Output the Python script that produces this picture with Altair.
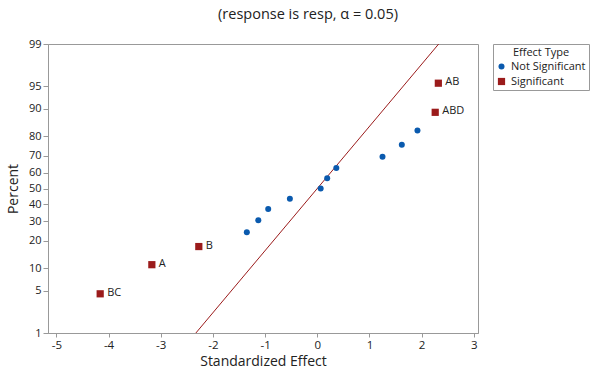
import altair as alt
import pandas as pd
from statistics import NormalDist

# Effects (standardized)
effect_names = ["BC", "A", "B", "", "", "", "", "", "", "", "", "", "", "ABD", "AB"]
effect_values = [-4.16, -3.17, -2.27, -1.35, -1.13, -0.94, -0.525, 0.065, 0.19, 0.365,
                 1.25, 1.62, 1.92, 2.26, 2.32]
effect_percent = [4.5, 11.0, 17.5, 24.0, 30.5, 37.0, 43.5, 50.0, 56.5, 63.0,
                  69.5, 76.0, 82.5, 89.0, 95.5]
effect_type = ["Significant", "Significant", "Significant",
               "Not Significant", "Not Significant", "Not Significant", "Not Significant",
               "Not Significant", "Not Significant", "Not Significant", "Not Significant",
               "Not Significant", "Not Significant", "Significant", "Significant"]

# reference line (standard normal: effect = z), endpoints in percent
line_percent = [1.0, 99.0]

y_tick_percent = [1, 5, 10, 20, 30, 40, 50, 60, 70, 80, 90, 95, 99]
x_ticks = [-5, -4, -3, -2, -1, 0, 1, 2, 3]

nd = NormalDist()
def z(p):
    return nd.inv_cdf(p / 100.0)

pts = pd.DataFrame({
    "name": effect_names,
    "effect": effect_values,
    "percent": effect_percent,
    "type": effect_type,
})
pts["z"] = [z(p) for p in pts["percent"]]

line_df = pd.DataFrame({"percent": line_percent})
line_df["z"] = [z(p) for p in line_df["percent"]]
line_df["effect"] = line_df["z"]

z_lo, z_hi = z(1), z(99)
y_vals = [z(p) for p in y_tick_percent]

FONT = "Open Sans"
RED = "#9B1B1B"
BLUE = "#0A5AAE"

x_scale = alt.Scale(domain=[-5.16, 3.08], nice=False, zero=False)
y_scale = alt.Scale(domain=[z_lo, z_hi], nice=False, zero=False)

x_axis = alt.Axis(values=x_ticks, title="Standardized Effect", grid=False,
                  labelExpr="datum.value < 0 ? '-' + format(-datum.value, 'd') : format(datum.value, 'd')",
                  tickSize=4, labelPadding=2, labelFontSize=11.5, labelFont=FONT,
                  titleFont=FONT, titleFontSize=14, titleFontWeight="normal",
                  titlePadding=4, domainColor="#999999", tickColor="#999999",
                  labelColor="#222222", titleColor="#222222", labelOverlap=False)
y_axis = alt.Axis(values=y_vals, title="Percent", grid=False,
                  labelExpr="format(cumulativeNormal(datum.value)*100, '.0f')",
                  tickSize=5, labelPadding=2, labelFontSize=11, labelFont=FONT,
                  titleFont=FONT, titleFontSize=14, titleFontWeight="normal",
                  titlePadding=8, domainColor="#999999", tickColor="#999999",
                  labelColor="#222222", titleColor="#222222", labelOverlap=False,
                  labelSeparation=0, labelBound=False)

X = alt.X("effect:Q", scale=x_scale, axis=x_axis)
Y = alt.Y("z:Q", scale=y_scale, axis=y_axis)

line = alt.Chart(line_df).mark_line(color=RED, strokeWidth=1, clip=True).encode(x=X, y=Y)

points = alt.Chart(pts).mark_point(filled=True, opacity=1).encode(
    x=X, y=Y,
    color=alt.Color("type:N",
                    scale=alt.Scale(domain=["Not Significant", "Significant"], range=[BLUE, RED]),
                    legend=alt.Legend(title="Effect Type", orient="none", legendX=445, legendY=0,
                                      titleFont=FONT, titleFontSize=11, titleFontWeight="normal",
                                      titleAnchor="middle", labelFont=FONT, labelFontSize=11,
                                      symbolSize=30, rowPadding=3, padding=3,
                                      strokeColor="#999999", fillColor="white",
                                      labelColor="#222222", titleColor="#222222",
                                      titlePadding=3)),
    shape=alt.Shape("type:N",
                    scale=alt.Scale(domain=["Not Significant", "Significant"], range=["circle", "square"]),
                    legend=None),
    size=alt.Size("type:N",
                  scale=alt.Scale(domain=["Not Significant", "Significant"], range=[36, 52]),
                  legend=None),
)

labels = alt.Chart(pts).transform_filter("datum.name != ''").mark_text(
    align="left", dx=7, dy=-1, font=FONT, fontSize=11, color="#222222"
).encode(x=X, y=Y, text="name:N")

chart = alt.layer(line, points, labels).properties(
    width=430, height=289,
    title=alt.TitleParams("(response is resp, α = 0.05)", font=FONT, fontSize=14.5,
                          fontWeight="normal", color="#222222", dx=45, offset=16),
    autosize=alt.AutoSizeParams(type="none"),
    padding={"left": 48, "top": 44, "right": 120, "bottom": 37},
).configure_view(stroke="#999999", strokeWidth=1).configure_axis(labelOverlap=False)

chart.save("out.html", embed_options={"renderer": "svg", "actions": False})
